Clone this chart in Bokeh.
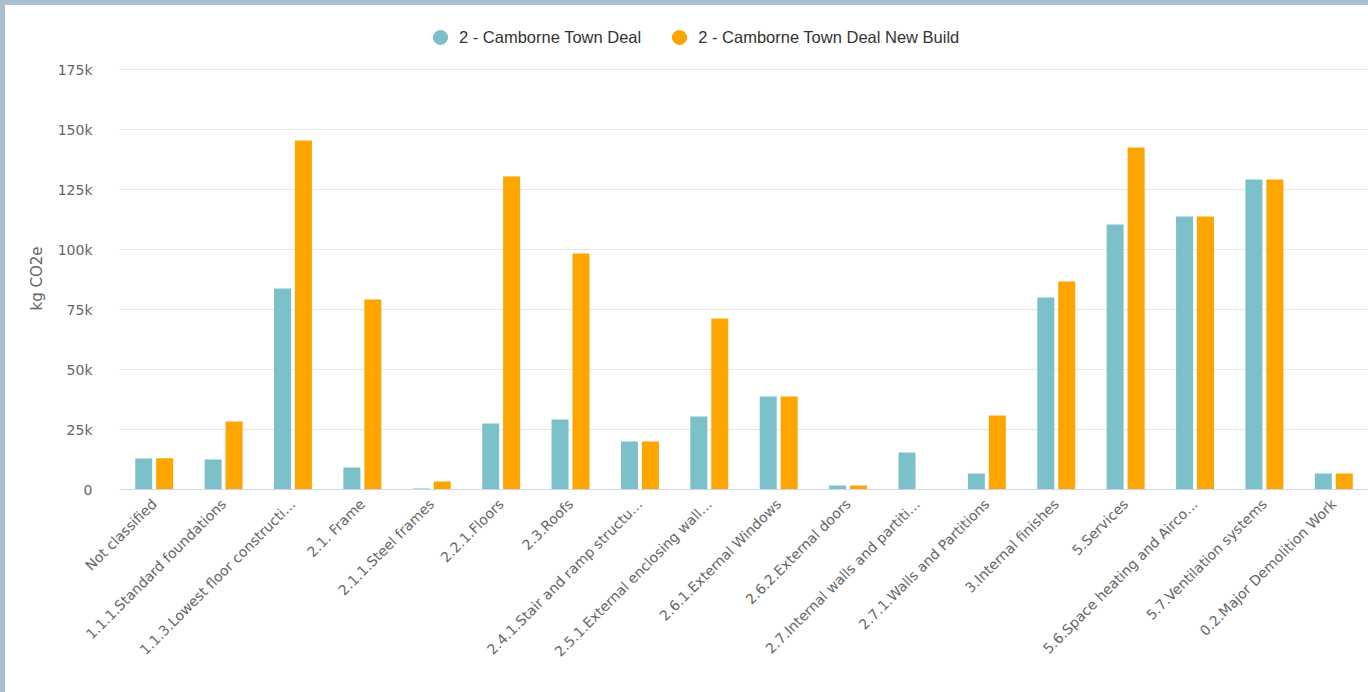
import math
from bokeh.plotting import figure
from bokeh.models import (ColumnDataSource, FactorRange, Range1d, FixedTicker,
                          CustomJSTickFormatter, Legend, LegendItem, Title,
                          GlobalInlineStyleSheet)
from bokeh.transform import dodge
from bokeh.embed import file_html
from bokeh.resources import INLINE

categories = [
    "Not classified",
    "1.1.1.Standard foundations",
    "1.1.3.Lowest floor constructi…",
    "2.1. Frame",
    "2.1.1.Steel frames",
    "2.2.1.Floors",
    "2.3.Roofs",
    "2.4.1.Stair and ramp structu…",
    "2.5.1.External enclosing wall…",
    "2.6.1.External Windows",
    "2.6.2.External doors",
    "2.7.Internal walls and partiti…",
    "2.7.1.Walls and Partitions",
    "3.Internal finishes",
    "5.Services",
    "5.6.Space heating and Airco…",
    "5.7.Ventilation systems",
    "0.2.Major Demolition Work",
]
town_deal = [12900, 12500, 83800, 9200, 400, 27500, 29200, 20000, 30400,
             38800, 1700, 15400, 6700, 80000, 110400, 113800, 129200, 6700]
new_build = [13000, 28300, 145400, 79200, 3300, 130400, 98300, 20000, 71300,
             38800, 1700, 0, 30800, 86700, 142500, 113800, 129200, 6700]
series_names = ["2 - Camborne Town Deal", "2 - Camborne Town Deal New Build"]
y_ticks = [0, 25000, 50000, 75000, 100000, 125000, 150000, 175000]
y_title = "kg CO2e"

TEAL = "#7cc1ca"
ORANGE = "#ffa500"
FONT = "DejaVu Sans"

page_css = GlobalInlineStyleSheet(css="""
html body { background: #a9bfd1 !important; margin: 0 !important;
            padding: 5px 0 0 5px !important; overflow: hidden !important; }
""")

source = ColumnDataSource(data=dict(cat=categories, a=town_deal, b=new_build))

# the frame reaches up to the legend row; the top gridline is 175k
p = figure(width=1363, height=687, output_backend="svg", toolbar_location=None,
           x_range=FactorRange(factors=categories), y_range=Range1d(0, 196250),
           min_border_left=114, min_border_right=0, min_border_top=13,
           min_border_bottom=203)
p.stylesheets = [page_css]
p.styles = {"background-color": "white"}
p.outline_line_color = None
p.background_fill_color = "white"
p.border_fill_color = "white"

p.vbar(x=dodge("cat", -0.151, range=p.x_range), top="a", width=0.245,
       source=source, color=TEAL, line_color=None)
p.vbar(x=dodge("cat", 0.151, range=p.x_range), top="b", width=0.245,
       source=source, color=ORANGE, line_color=None)

# legend markers (placeholder rows with no y value, so only the legend shows them)
marker_src = ColumnDataSource(data=dict(x=[categories[0]], y=[float("nan")]))
r1 = p.scatter(x="x", y="y", source=marker_src, marker="circle", size=15,
               fill_color=TEAL, line_color=None)
r2 = p.scatter(x="x", y="y", source=marker_src, marker="circle", size=15,
               fill_color=ORANGE, line_color=None)
legend = Legend(items=[LegendItem(label=series_names[0], renderers=[r1]),
                       LegendItem(label=series_names[1], renderers=[r2])],
                orientation="horizontal", location=(302, 433),
                glyph_width=38, glyph_height=38, label_standoff=0, spacing=19,
                padding=0, margin=0, border_line_color=None,
                background_fill_alpha=0, label_text_font="Liberation Sans",
                label_text_font_size="16.5px", label_text_color="#333333",
                label_height=38)
p.add_layout(legend, "center")

p.xgrid.grid_line_color = None
p.ygrid.grid_line_color = "#e6e6e6"
p.ygrid.ticker = FixedTicker(ticks=y_ticks)

yax = p.yaxis[0]
yax.ticker = FixedTicker(ticks=y_ticks)
yax.formatter = CustomJSTickFormatter(code="return tick == 0 ? '0' : (tick/1000) + 'k';")
yax.axis_line_color = None
yax.major_tick_line_color = None
yax.minor_tick_line_color = None
yax.major_label_standoff = 21
yax.major_label_text_font = FONT
yax.major_label_text_font_size = "14px"
yax.major_label_text_color = "#666666"

ytitle = Title(text=y_title, align="left", offset=179, standoff=18,
               text_font=FONT, text_font_size="15px", text_font_style="normal",
               text_color="#666666")
p.add_layout(ytitle, "left")

xax = p.xaxis[0]
xax.axis_line_color = "#ccd6eb"
xax.major_tick_line_color = None
xax.minor_tick_line_color = None
xax.major_label_orientation = math.pi / 4
xax.major_label_standoff = 6
xax.major_label_text_font = FONT
xax.major_label_text_font_size = "14px"
xax.major_label_text_color = "#666666"

open("out.html", "w").write(file_html(p, INLINE))
